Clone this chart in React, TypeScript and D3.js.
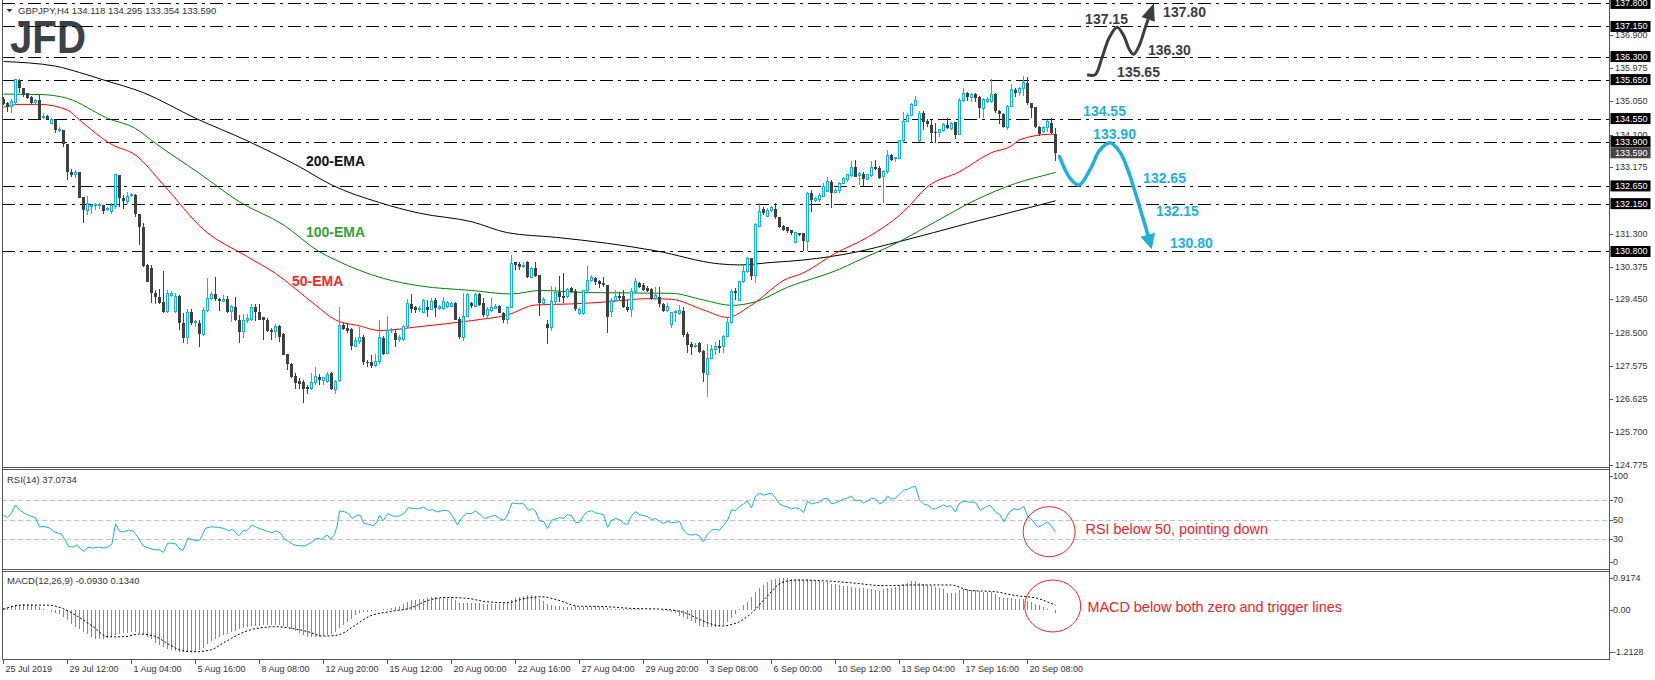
import React from "react";
import * as d3 from "d3";

// ---------- DATA ----------
// GBPJPY H4 candles: [open, high, low, close]
const ohlc: [number, number, number, number][] = [
  [135.09,135.15,134.93,134.96],[135.0,135.02,134.74,134.88],[134.88,135.09,134.7,135.02],[135.0,135.65,134.93,135.64],
  [135.65,135.66,135.26,135.4],[135.4,135.4,135.17,135.21],[135.26,135.28,135.09,135.14],[135.17,135.2,134.95,134.98],
  [135.0,135.09,134.93,135.07],[135.07,135.21,134.53,134.55],[134.6,134.7,134.55,134.62],[134.62,134.65,134.52,134.55],
  [134.41,134.58,134.39,134.52],[134.5,134.5,134.15,134.22],[134.2,134.3,134.18,134.24],[134.24,134.24,133.74,133.83],
  [133.83,133.83,132.83,133.05],[133.05,133.14,132.91,132.96],[132.96,133.1,132.86,133.04],[133.04,133.04,132.3,132.32],
  [132.34,132.35,131.59,131.97],[131.95,132.36,131.83,132.15],[132.08,132.15,131.87,132.1],[132.1,132.17,131.97,132.12],
  [132.1,132.18,132.0,132.12],[132.1,132.11,131.86,131.95],[131.98,132.05,131.93,132.0],[131.92,132.17,131.87,132.1],
  [132.06,132.97,132.0,132.96],[132.96,132.97,132.06,132.3],[132.32,132.39,132.0,132.23],[132.2,132.48,132.15,132.36],
  [132.4,132.46,132.33,132.42],[132.4,132.42,131.78,131.87],[131.87,131.87,130.98,131.5],[131.5,131.59,130.37,130.39],
  [130.41,130.44,129.94,129.94],[130.32,130.42,129.35,129.62],[129.62,129.71,129.33,129.52],[129.52,129.73,129.33,129.35],
  [129.38,130.25,129.07,129.1],[129.1,129.71,129.07,129.62],[129.57,129.69,129.52,129.62],[129.1,129.62,129.05,129.54],
  [129.54,129.57,128.58,128.77],[128.77,129.05,128.22,128.37],[128.37,129.17,128.19,129.08],[129.08,129.19,128.72,128.77],
  [128.8,128.86,128.68,128.82],[128.77,128.86,128.11,128.47],[128.47,129.22,128.41,129.14],[129.14,130.04,129.1,129.47],
  [129.47,129.66,129.43,129.59],[129.59,130.07,129.41,129.45],[129.45,129.5,129.13,129.4],[129.4,129.57,129.4,129.45],
  [129.45,129.54,129.07,129.1],[129.12,129.29,128.8,129.24],[129.24,129.52,128.84,128.86],[128.88,129.0,128.22,128.53],
  [128.53,129.03,128.35,128.86],[128.86,129.03,128.77,128.9],[128.88,129.31,128.84,129.22],[129.24,129.33,128.84,129.1],
  [129.1,129.31,128.86,128.88],[128.94,128.96,128.3,128.88],[128.88,128.91,128.53,128.56],[128.58,128.63,128.3,128.53],
  [128.53,128.75,128.37,128.69],[128.69,128.72,128.25,128.39],[128.46,128.49,127.87,127.87],[127.9,127.92,127.45,127.62],
  [127.62,127.64,127.22,127.26],[127.28,127.36,126.93,127.08],[127.14,127.22,126.93,127.06],[127.12,127.17,126.53,126.93],
  [126.98,127.03,126.79,126.93],[126.93,127.38,126.89,127.09],[127.09,127.55,127.03,127.26],[127.26,127.34,127.03,127.17],
  [127.17,127.26,127.03,127.24],[127.12,127.4,127.09,127.34],[127.36,127.4,126.89,126.93],[126.91,127.17,126.79,127.12],
  [127.15,129.22,127.12,128.72],[128.72,128.77,128.58,128.6],[128.63,128.77,128.49,128.56],[128.6,128.63,128.02,128.13],
  [128.13,128.39,128.11,128.3],[128.25,128.67,128.2,128.37],[128.39,128.44,127.59,127.69],[127.69,127.75,127.55,127.64],
  [127.69,127.87,127.5,127.57],[127.57,127.92,127.55,127.69],[127.69,128.86,127.62,128.37],[128.37,128.41,127.87,127.92],
  [127.92,128.98,127.9,128.58],[128.56,128.63,128.49,128.6],[128.51,128.58,128.11,128.3],[128.32,128.44,128.25,128.37],
  [128.32,128.72,128.28,128.67],[128.67,129.47,128.63,129.33],[129.33,129.61,129.05,129.19],[129.22,129.26,129.05,129.15],
  [129.15,129.26,129.1,129.2],
  [129.07,129.45,129.05,129.43],[129.22,129.43,128.96,129.15],[129.17,129.48,129.15,129.38],[129.43,129.48,128.96,129.2],
  [129.2,129.29,129.15,129.24],[129.2,129.52,129.15,129.38],[129.26,129.4,129.2,129.36],[129.24,129.38,129.22,129.33],
  [129.34,129.38,128.87,128.88],[128.9,128.94,128.32,128.38],[128.38,129.64,128.26,128.96],[128.96,129.62,128.94,129.59],
  [129.34,129.38,129.2,129.26],[129.26,129.62,129.22,129.59],[129.59,129.62,129.26,129.29],[129.34,129.48,128.96,129.0],
  [129.0,129.24,128.89,129.15],[129.13,129.48,129.1,129.22],[129.2,129.31,129.17,129.26],[129.26,129.29,129.05,129.07],
  [129.07,129.1,128.79,128.88],[128.88,129.26,128.75,129.22],[129.22,130.7,129.2,130.47],[130.49,130.51,130.28,130.42],
  [130.45,130.51,130.28,130.37],[130.37,130.51,130.32,130.41],[130.51,130.54,130.04,130.07],[130.07,130.37,130.04,130.32],
  [130.32,130.51,130.09,130.11],[130.14,130.14,128.98,129.36],[129.34,129.52,129.32,129.45],[128.75,128.86,128.19,128.65],
  [128.65,129.83,128.57,129.4],[129.38,129.79,129.29,129.64],[129.66,130.11,129.38,129.52],[129.55,130.18,129.34,129.5],
  [129.52,129.76,129.5,129.73],[129.76,129.79,129.64,129.66],[129.69,129.73,129.13,129.17],[129.06,129.24,129.01,129.17],
  [129.06,129.71,129.01,129.69],[129.69,130.39,129.66,129.99],[129.99,130.14,129.95,130.06],[130.06,130.09,129.85,129.95],
  [129.97,130.0,129.76,129.88],[129.92,130.07,129.79,129.85],[129.85,129.85,128.49,128.96],[129.1,129.48,128.96,129.43],
  [129.43,129.71,129.38,129.52],[129.55,129.67,129.43,129.5],[129.55,129.71,129.2,129.22],[129.24,129.43,129.1,129.15],
  [129.15,129.76,128.96,129.66],[129.66,130.04,129.62,129.95],[129.9,129.95,129.76,129.79],[129.85,129.92,129.69,129.71],
  [129.78,129.83,129.67,129.69],[129.73,129.76,129.43,129.45],[129.48,129.79,129.43,129.57],[129.52,129.79,129.24,129.31],
  [129.31,129.34,129.1,129.13],[129.13,129.34,129.1,129.26],[128.75,129.1,128.63,129.07],[129.07,129.15,128.82,129.1],
  [129.06,129.29,129.01,129.13],[129.13,129.24,128.4,128.44],[128.47,128.54,127.93,128.16],[128.19,128.25,127.88,128.11],
  [128.11,128.23,128.07,128.16],[128.23,128.25,127.93,127.97],[128.0,128.02,127.13,127.36],[127.34,128.2,126.69,127.78],
  [127.79,128.15,127.77,128.04],[128.04,128.25,127.88,128.13],[128.13,128.3,127.93,128.09],[128.13,128.44,127.93,128.4],
  [128.4,128.96,128.38,128.79],[128.79,129.73,128.75,129.66],[129.69,129.76,129.43,129.62],[129.43,129.98,129.41,129.95],
  [129.95,130.42,129.9,130.23],[130.23,130.65,130.18,130.61],[130.61,130.63,130.0,130.11],[130.11,131.6,129.92,131.55],
  [131.5,132.16,131.48,131.92],
  [131.99,132.06,131.83,131.88],[131.8,132.02,131.76,131.95],[131.95,132.08,131.92,132.05],[131.99,132.16,131.71,131.76],
  [131.76,131.78,131.45,131.5],[131.52,131.55,131.39,131.42],[131.48,131.5,131.31,131.39],[131.4,131.42,131.27,131.31],
  [131.05,131.36,131.03,131.33],[131.31,131.33,131.24,131.26],[131.31,131.33,130.8,131.1],
  [131.08,132.49,130.8,132.44],[132.46,132.53,131.9,132.25],[132.25,132.35,132.2,132.3],[132.27,132.44,132.2,132.39],
  [132.35,132.74,132.33,132.63],[132.49,132.89,132.47,132.77],[132.77,132.82,132.02,132.46],[132.46,132.58,132.44,132.53],
  [132.52,132.77,132.46,132.72],[132.72,132.91,132.7,132.86],[132.84,132.99,132.77,132.96],[132.93,133.36,132.89,133.17],
  [133.17,133.38,132.89,132.91],[132.93,133.05,132.68,133.0],[133.0,133.05,132.65,132.84],[132.84,133.0,132.82,132.96],
  [132.93,133.36,132.89,133.17],[133.19,133.38,133.1,133.12],[133.15,133.21,132.84,132.86],[132.91,133.1,132.16,133.05],
  [133.05,133.66,133.0,133.52],[133.52,133.54,133.36,133.38],[133.41,133.47,133.33,133.45],[133.42,133.95,133.4,133.92],
  [133.92,134.74,133.85,134.48],[134.48,134.72,134.44,134.65],[134.65,135.0,134.62,134.95],[134.93,135.19,134.9,135.07],
  [133.93,134.75,133.9,134.7],[134.72,134.77,134.23,134.46],[134.48,134.53,134.32,134.39],[134.37,134.51,133.87,134.15],
  [134.18,134.42,133.87,134.13],[134.15,134.27,134.02,134.23],[134.2,134.42,134.18,134.37],[134.37,134.56,134.25,134.28],
  [134.28,134.44,134.23,134.42],[134.44,134.46,133.98,134.09],[134.09,135.12,134.08,135.07],[135.07,135.4,135.03,135.26],
  [135.28,135.31,135.05,135.17],[135.15,135.28,135.03,135.24],[135.24,135.26,135.03,135.14],[135.17,135.19,134.56,134.84],
  [134.84,135.12,134.56,135.09],[135.03,135.15,135.0,135.09],[135.03,135.66,135.0,135.24],[135.24,135.26,134.72,134.75],
  [134.77,134.79,134.4,134.68],[134.68,134.72,134.28,134.3],[134.3,134.93,134.23,134.9],[134.9,135.53,134.89,135.36],
  [135.36,135.4,135.17,135.26],[135.28,135.45,135.19,135.4],[135.4,135.75,135.19,135.56],[135.56,135.71,134.93,134.98],
  [134.98,135.0,134.56,134.84],[134.87,134.89,134.28,134.3],[134.32,134.34,134.06,134.11],[134.18,134.34,134.13,134.3],
  [134.3,134.51,134.18,134.46],[134.43,134.56,134.11,134.13],[134.118,134.295,133.354,133.59],
];

// EMA readings [bar, value]
const ema200: [number, number][] = [
  [0,136.16],[13,136.03],[19,135.85],[25,135.64],[35,135.28],[48,134.56],[61,133.92],[74,133.19],[82,132.68],
  [94,132.18],[104,131.88],[117,131.64],[126,131.33],[138,131.2],[151,131.03],[163,130.82],[179,130.45],[184,130.42],
  [192,130.49],[200,130.56],[213,130.78],[224,131.08],[241,131.59],[262,132.2],[263,132.23],
];
const ema100: [number, number][] = [
  [0,135.24],[9,135.23],[16,135.12],[26,134.56],[33,134.27],[38,133.85],[49,133.0],[59,132.2],[70,131.55],[79,130.79],
  [83,130.56],[95,130.04],[104,129.83],[117,129.7],[127,129.6],[134,129.7],[146,129.64],[167,129.62],[175,129.43],
  [182,129.28],[188,129.38],[196,129.79],[209,130.3],[213,130.51],[224,131.08],[233,131.64],[243,132.25],[253,132.72],
  [262,133.0],[263,133.03],
];
const ema50: [number, number][] = [
  [0,134.87],[4,134.95],[9,134.95],[16,134.79],[19,134.51],[27,133.82],[33,133.52],[40,132.68],[50,131.42],[61,130.65],
  [68,130.18],[78,129.29],[83,128.87],[89,128.7],[94,128.57],[104,128.68],[117,128.85],[126,129.01],[133,129.29],
  [142,129.32],[151,129.38],[161,129.47],[167,129.45],[175,129.15],[181,128.94],[187,129.29],[196,130.04],[199,130.15],
  [208,130.75],[216,131.2],[225,131.92],[231,132.63],[239,133.05],[247,133.59],[252,133.78],[254,133.95],[262,134.11],
  [263,134.09],
];

// RSI(14) readings [bar, value]
const rsi: [number, number][] = [
  [0,54.4],[1,52],[1.9,56],[3,65],[4.1,59.4],[5.4,56],[6.8,53.4],[8,51.7],[9,42.6],[10.4,42.6],[11.7,41],[12.6,37.5],
  [14.4,35.2],[15.3,29.8],[16.2,22.4],[17.5,21.7],[18.4,24],[19.3,19.7],[20.2,17.3],[21.1,21.7],[22.4,20.7],[23.8,21.7],
  [25.1,20.7],[26,21.7],[27.1,24.7],[28,45.3],[29.1,37.5],[30.3,37.5],[31.3,39.2],[32.4,38.2],[33.6,31.8],[34.9,23],
  [36.3,20.7],[37.6,19],[38.9,19],[40,16.3],[41,25.7],[42.1,25.7],[43.1,25],[43.8,20.7],[44.9,18.3],[46.1,30.8],
  [47.4,29.1],[48.8,28.1],[49.2,29.8],[50.5,40.9],[51.9,42.6],[53.7,41.9],[55,40.9],[56.3,38.5],[57.2,39.9],[58.8,33.2],
  [59.9,38.5],[60.8,38.5],[62.1,44.3],[63.3,41.9],[64.4,40.2],[65.7,38.2],[67.1,36.5],[68.1,38.5],[69.3,35.8],[70.2,29.8],
  [71.3,27.4],[72.6,24],[73.8,23],[75.5,23],[76.9,26.4],[78.2,30.8],[79.6,29.8],[80.9,34.2],[81.8,29.8],[82.7,34.2],
  [83.4,43.3],[84,58.8],[85.4,57.8],[86.3,56],[87.2,51],[88.3,54.4],[89.2,54.4],[90.1,46],[91.2,45.3],[92.5,43.6],
  [93.4,47.6],[94,54.4],[94.9,48.7],[96.1,56],[97.4,53.4],[98.8,53.4],[100.1,56],[101.2,62.1],[102.8,61.1],[103.9,61.1],
  [105,62.8],[106.2,59.4],[107.2,60.1],[108.6,57.8],[109.9,59.4],[111.3,58.8],[112.4,52.7],[113.5,44.3],[114.4,51],
  [115.7,56],[116.9,56],[118,58.8],[119.3,54.4],[120.2,51],[121.5,52.7],[122.9,54.4],[124,51],[125.1,49.3],[126,54.4],
  [127.1,66.9],[128.7,66.2],[130,66.2],[131.2,59.4],[132.2,61.1],[133.1,57.8],[134,48.7],[135.1,47.6],[136,40.9],
  [137.1,49.3],[138.5,51],[139,52],[140,51],[141,55],[142,54],[143,47],[144,47],[145,54],[146,58],[147,59],[148,57],
  [149,56],[150,55],[151,42],[152,49],[153,51],[154,50],[155,46],[156,45],[157,54],[158,58],[159,55],[160,54],[161,53],
  [162,50],[163,51],[164,48],[165,46],[166,48],[167,47],[168,47],[169,48],[170,39],[171,35],[172,34],[173,35],[174,33],
  [175,27],[176,35],[177,39],[178,40],[179,39],[180,44],[181,49],[182,60],[183,59],[184,63],[185,66],[186,69],[187,62],
  [188,74],[189,77],[190,75],[191,76],[192,77],[193,72],[194,66],[195,64],[196,63],[197,61],[198,62],[199,61],[200,57],
  [201,69],[202,66],[203,67],[204,68],[205,71],[206,72],[207,66],[208,67],[209,69],[210,71],[211,72],[212,74],[213,69],
  [214,70],[215,67],[216,69],[217,72],[218,71],[219,66],[220,68],[221,74],[222,71],[223,72],[224,76],[225,80],[226,81],
  [227,83],[228,84],[229,70],[230,66],[231,65],[232,61],[233,61],[234,63],[235,65],[236,63],[236.7,64.4],[238,57.7],
  [238.8,66],[240,68.7],[241.7,67.7],[243,67.7],[244.2,59.3],[245.5,62.7],[246.7,64.4],[248,57.7],[249.2,54.4],
  [250.1,47.6],[251.3,56.7],[252.6,61],[253.8,60],[255.1,63.4],[256.1,52.7],[257.2,49.3],[258.6,42],[259.7,44.3],
  [261,47.6],[261.8,44.3],[263,37.07],
];

// MACD(12,26,9) main histogram, one value per bar
const macdHist: number[] = [
  0.05,0.08,0.11,0.14,0.15,0.16,0.16,0.16,0.12,0.08,
  0.04,0.0,-0.05,-0.08,-0.12,-0.2,-0.3,-0.4,-0.48,-0.56,
  -0.63,-0.7,-0.78,-0.82,-0.84,-0.84,-0.81,-0.78,-0.72,-0.69,
  -0.67,-0.66,-0.64,-0.62,-0.65,-0.7,-0.77,-0.84,-0.94,-1.02,
  -1.06,-1.11,-1.15,-1.18,-1.2,-1.21,-1.2128,-1.21,-1.19,-1.15,
  -1.1,-0.98,-0.9,-0.82,-0.77,-0.72,-0.68,-0.63,-0.6,-0.56,
  -0.52,-0.49,-0.47,-0.46,-0.45,-0.43,-0.43,-0.43,-0.42,-0.43,
  -0.45,-0.5,-0.55,-0.6,-0.67,-0.73,-0.77,-0.78,-0.79,-0.78,
  -0.74,-0.72,-0.68,-0.62,-0.52,-0.44,-0.34,-0.25,-0.15,-0.1,
  -0.07,-0.05,-0.03,-0.02,0.0,0.02,0.04,0.06,0.08,0.12,
  0.18,0.24,0.28,0.3,0.31,0.33,0.35,0.36,0.36,0.35,
  0.36,0.35,0.36,0.3,0.19,0.2,0.19,0.2,0.19,0.19,
  0.18,0.18,0.17,0.16,0.17,0.2,0.24,0.3,0.34,0.37,
  0.4,0.42,0.43,0.41,0.31,0.25,0.18,0.14,0.12,0.11,
  0.1,0.1,0.1,0.11,0.1,0.09,0.1,0.1,0.11,0.1,
  0.1,0.06,0.04,0.03,0.02,0.03,0.02,0.02,0.03,0.02,
  0.01,0.01,0.0,0.0,0.0,-0.02,-0.04,-0.05,-0.1,-0.17,
  -0.2,-0.26,-0.32,-0.36,-0.45,-0.48,-0.49,-0.5,-0.5,-0.47,
  -0.42,-0.35,-0.22,-0.12,0.02,0.15,0.24,0.38,0.53,0.62,
  0.72,0.8,0.86,0.9,0.9174,0.91,0.91,0.9,0.89,0.88,
  0.86,0.88,0.86,0.84,0.82,0.8,0.8,0.76,0.74,0.72,
  0.7,0.68,0.66,0.64,0.63,0.62,0.6,0.6,0.58,0.56,
  0.6,0.62,0.63,0.66,0.72,0.76,0.79,0.82,0.84,0.78,
  0.75,0.72,0.68,0.66,0.64,0.6,0.5,0.48,0.5,0.58,
  0.6,0.6,0.58,0.58,0.55,0.53,0.53,0.52,0.45,0.38,
  0.34,0.34,0.35,0.33,0.32,0.32,0.27,0.24,0.18,0.13,
  0.08,0.03,0.0,-0.093,
];
// MACD signal line readings [bar, value]
const macdSignal: [number, number][] = [
  [0,0.02],[4.5,0.14],[10.9,0.14],[14.7,0.05],[18.6,-0.19],[22.4,-0.48],[26.2,-0.77],[30,-0.77],[33.9,-0.69],
  [37.7,-0.75],[41.5,-1.0],[44.7,-1.17],[47.9,-1.2],[51.7,-1.15],[55.5,-0.91],[59.4,-0.67],[63.2,-0.53],[68.3,-0.48],
  [72.1,-0.53],[76,-0.62],[79.8,-0.75],[83.6,-0.72],[87.4,-0.48],[91.3,-0.19],[96.4,-0.05],[101.5,0.05],[106.6,0.29],
  [110.4,0.36],[115.5,0.34],[120.6,0.24],[125.7,0.21],[130.8,0.34],[134.6,0.38],[138.5,0.29],[143.6,0.11],[150,0.1],
  [156.3,0.05],[165.2,0.02],[170.3,-0.08],[175.4,-0.34],[179.3,-0.46],[183.1,-0.38],[186.9,-0.1],[190.8,0.38],
  [194.6,0.79],[198.4,0.86],[205,0.84],[212,0.78],[220,0.7],[228,0.72],[236.7,0.72],[241.7,0.56],[247.5,0.53],
  [253.3,0.41],[258.3,0.34],[263,0.134],
];

const levelPrices = [137.8, 137.15, 136.3, 135.65, 134.55, 133.9, 132.65, 132.15, 130.8];
const priceTicks = [136.9, 135.975, 135.05, 134.1, 133.175, 131.3, 130.375, 129.45, 128.5, 127.575, 126.625, 125.7, 124.775];
const lastPrice = 133.59;
const rsiTicks = [100, 70, 50, 30, 0];
const rsiLevels = [70, 50, 30];
const macdTicks = [0.9174, 0, -1.2128];
const timeLabels = [
  "25 Jul 2019", "29 Jul 12:00", "1 Aug 04:00", "5 Aug 16:00", "8 Aug 08:00", "12 Aug 20:00", "15 Aug 12:00",
  "20 Aug 00:00", "22 Aug 16:00", "27 Aug 04:00", "29 Aug 20:00", "3 Sep 08:00", "6 Sep 00:00", "10 Sep 12:00",
  "13 Sep 04:00", "17 Sep 16:00", "20 Sep 08:00",
];
const barsPerTimeLabel = 16;

// scenario paths in [bar, price]
const bullPath: [number, number][] = [
  [270.9,135.788],[272.9,135.788],[274.6,136.259],[276.4,136.824],[278.4,137.126],[280.1,136.88],[281.4,136.513],
  [282.5,136.364],[283.9,136.598],[285.4,137.106],
];
const bullTip: [number, number] = [287.6, 137.803];
const bearPath: [number, number][] = [
  [264.0,133.474],[266.6,132.873],[268.9,132.676],[271.6,133.1],[274.1,133.664],[276.6,133.87],[279.1,133.607],
  [281.1,133.1],[282.9,132.479],[284.4,131.915],[285.6,131.463],
];
const bearTip: [number, number] = [287.05, 130.862];
const bullLabels: { t: string; b: number; p: number }[] = [
  { t: "137.15", b: 270.4, p: 137.36 },
  { t: "137.80", b: 289.9, p: 137.55 },
  { t: "136.30", b: 286.1, p: 136.485 },
  { t: "135.65", b: 278.4, p: 135.873 },
];
const bearLabels: { t: string; b: number; p: number }[] = [
  { t: "134.55", b: 269.9, p: 134.772 },
  { t: "133.90", b: 272.4, p: 134.115 },
  { t: "132.65", b: 284.9, p: 132.865 },
  { t: "132.15", b: 288.1, p: 131.951 },
  { t: "130.80", b: 291.6, p: 131.048 },
];
const emaLabels: { t: string; b: number; p: number; c: string }[] = [
  { t: "200-EMA", b: 75.6, p: 133.362, c: "#111111" },
  { t: "100-EMA", b: 75.6, p: 131.35, c: "#35a03a" },
  { t: "50-EMA", b: 72.1, p: 129.976, c: "#ee2b2b" },
];

// ---------- STYLE ----------
const FONT = "'Liberation Sans', Arial, sans-serif";
const AXIS_COLOR = "#333333";
const FRAME = "#555555";
const BULL = "#15b1da";
const BEAR = "#404040";
const CYAN = "#1cb0db";
const RED = "#e8252c";

export default function App() {
  const n = ohlc.length;
  const left = 2;
  const right = 1609;
  const x = d3.scaleLinear().domain([0, 1]).range([3.5, 7.5]);
  const yP = d3.scaleLinear().domain([124.775, 136.9]).range([465, 35.3]);
  const yR = d3.scaleLinear().domain([0, 100]).range([568.25, 470.75]);
  const yM = d3.scaleLinear().domain([0, 1]).range([610, 575.2]);

  const emaLine = d3
    .line<[number, number]>()
    .x((d) => x(d[0]))
    .y((d) => yP(d[1]))
    .curve(d3.curveMonotoneX);
  const rsiLine = d3
    .line<[number, number]>()
    .x((d) => x(d[0]))
    .y((d) => yR(d[1]));
  const sigLine = d3
    .line<[number, number]>()
    .x((d) => x(d[0]))
    .y((d) => yM(d[1]))
    .curve(d3.curveMonotoneX);
  const arrowLine = d3
    .line<[number, number]>()
    .x((d) => d[0])
    .y((d) => d[1])
    .curve(d3.curveCatmullRom.alpha(0.5));

  const arrow = (pts: [number, number][], tip: [number, number], headLen: number, halfW: number) => {
    const px = pts.map((d) => [x(d[0]), yP(d[1])] as [number, number]);
    const t: [number, number] = [x(tip[0]), yP(tip[1])];
    const last = px[px.length - 1];
    const dx = t[0] - last[0];
    const dy = t[1] - last[1];
    const len = Math.hypot(dx, dy);
    const ux = dx / len;
    const uy = dy / len;
    const base: [number, number] = [t[0] - ux * headLen, t[1] - uy * headLen];
    const w1 = [base[0] - uy * halfW, base[1] + ux * halfW];
    const w2 = [base[0] + uy * halfW, base[1] - ux * halfW];
    return {
      line: arrowLine([...px, base]) || "",
      head: `M${t[0]},${t[1]}L${w1[0]},${w1[1]}L${w2[0]},${w2[1]}Z`,
    };
  };
  const bull = arrow(bullPath, bullTip, 17, 7);
  const bear = arrow(bearPath, bearTip, 15, 7.5);

  const crisp = (v: number) => Math.round(v) + 0.5;

  return (
    <svg
      width={1655}
      height={680}
      viewBox="0 0 1655 680"
      style={{ position: "absolute", left: 0, top: 0, background: "#ffffff" }}
      fontFamily={FONT}
    >
      <rect x={0} y={0} width={1655} height={680} fill="#ffffff" />

      {/* logo */}
      <text
        x={10}
        y={53}
        fontSize={47}
        fontWeight="bold"
        fill="#3c4047"
        textLength={76}
        lengthAdjust="spacingAndGlyphs"
      >
        JFD
      </text>

      {/* header */}
      <path d="M6.5,9 L12.5,9 L9.5,12.3 Z" fill="#333" />
      <text x={18} y={10} fontSize={9.5} fill={AXIS_COLOR} dominantBaseline="central">
        GBPJPY,H4  134.118 134.295 133.354 133.590
      </text>

      {/* level lines */}
      {levelPrices.map((p) => (
        <line
          key={"lv" + p}
          x1={left}
          x2={right}
          y1={crisp(yP(p))}
          y2={crisp(yP(p))}
          stroke="#000"
          strokeWidth={1}
          strokeDasharray="13,5,3,5"
        />
      ))}

      {/* EMAs */}
      <path d={emaLine(ema200) || ""} fill="none" stroke="#000000" strokeWidth={1} />
      <path d={emaLine(ema100) || ""} fill="none" stroke="#008000" strokeWidth={1} />
      <path d={emaLine(ema50) || ""} fill="none" stroke="#ff0000" strokeWidth={1} />

      {/* candles */}
      <g shapeRendering="crispEdges">
        {ohlc.map(([o, h, l, c], i) => {
          const cx = x(i);
          const bullish = c >= o;
          const top = yP(Math.max(o, c));
          const bot = yP(Math.min(o, c));
          const col = bullish ? BULL : BEAR;
          return (
            <g key={"c" + i}>
              <line x1={cx} x2={cx} y1={yP(Math.max(h, o, c))} y2={yP(Math.min(l, o, c))} stroke={col} />
              {bullish ? (
                <rect x={cx - 1} y={top} width={2} height={Math.max(1, bot - top)} fill="#ffffff" stroke={col} />
              ) : (
                <rect x={cx - 1.5} y={top} width={3} height={Math.max(1, bot - top)} fill={col} />
              )}
            </g>
          );
        })}
      </g>

      {/* EMA labels */}
      {emaLabels.map((d) => (
        <text
          key={d.t}
          x={x(d.b)}
          y={yP(d.p)}
          fontSize={14}
          fontWeight="bold"
          fill={d.c}
          dominantBaseline="central"
        >
          {d.t}
        </text>
      ))}

      {/* scenario arrows */}
      <path d={bull.line} fill="none" stroke="#3d3d3d" strokeWidth={3} strokeLinejoin="round" />
      <path d={bull.head} fill="#3d3d3d" />
      <path d={bear.line} fill="none" stroke={CYAN} strokeWidth={3.5} strokeLinecap="round" strokeLinejoin="round" />
      <path d={bear.head} fill={CYAN} />
      {bullLabels.map((d) => (
        <text key={d.t} x={x(d.b)} y={yP(d.p)} fontSize={14} fontWeight="bold" fill="#3d3d3d" dominantBaseline="central">
          {d.t}
        </text>
      ))}
      {bearLabels.map((d) => (
        <text key={d.t} x={x(d.b)} y={yP(d.p)} fontSize={14} fontWeight="bold" fill={CYAN} dominantBaseline="central">
          {d.t}
        </text>
      ))}

      {/* RSI panel */}
      {rsiLevels.map((v) => (
        <line
          key={"rl" + v}
          x1={left}
          x2={right}
          y1={crisp(yR(v))}
          y2={crisp(yR(v))}
          stroke="#c4c4c4"
          strokeDasharray="5,3"
        />
      ))}
      <path d={rsiLine(rsi) || ""} fill="none" stroke="#1aaed8" strokeWidth={1} />
      <text x={7} y={479} fontSize={9.5} fill={AXIS_COLOR} dominantBaseline="central">
        RSI(14) 37.0734
      </text>
      <ellipse cx={x(261.4)} cy={yR(37.5)} rx={26} ry={25} fill="none" stroke={RED} strokeWidth={1} />
      <text x={x(270.5)} y={yR(39.9)} fontSize={14.4} fill={RED} dominantBaseline="central">
        RSI below 50, pointing down
      </text>

      {/* MACD panel */}
      <g shapeRendering="crispEdges">
        {macdHist.map((v, i) => (
          <line key={"m" + i} x1={x(i)} x2={x(i)} y1={yM(0)} y2={yM(v)} stroke={BULL} />
        ))}
      </g>
      <path d={sigLine(macdSignal) || ""} fill="none" stroke="#000" strokeWidth={1} strokeDasharray="2,2" />
      <text x={7} y={580} fontSize={9.5} fill={AXIS_COLOR} dominantBaseline="central">
        MACD(12,26,9) -0.0930 0.1340
      </text>
      <ellipse cx={x(262.3)} cy={yM(0.115)} rx={28} ry={26} fill="none" stroke={RED} strokeWidth={1} />
      <text x={x(271)} y={yM(0.095)} fontSize={14.4} fill={RED} dominantBaseline="central">
        MACD below both zero and trigger lines
      </text>

      {/* frames */}
      <g stroke={FRAME} strokeWidth={1} shapeRendering="crispEdges" fill="none">
        <line x1={2.5} x2={2.5} y1={0} y2={660} />
        <line x1={1609.5} x2={1609.5} y1={0} y2={660} />
        <line x1={2} x2={1610} y1={467.5} y2={467.5} />
        <line x1={2} x2={1610} y1={469.5} y2={469.5} />
        <line x1={2} x2={1610} y1={569.5} y2={569.5} />
        <line x1={2} x2={1610} y1={571.5} y2={571.5} />
        <line x1={2} x2={1610} y1={659.5} y2={659.5} />
      </g>

      {/* price axis */}
      {priceTicks.map((p) => (
        <g key={"pt" + p}>
          <line x1={1610} x2={1613} y1={crisp(yP(p))} y2={crisp(yP(p))} stroke={FRAME} />
          <text x={1615} y={yP(p)} fontSize={9} fill={AXIS_COLOR} dominantBaseline="central">
            {p.toFixed(3)}
          </text>
        </g>
      ))}
      {levelPrices.map((p) => (
        <g key={"pb" + p}>
          <rect x={1610.5} y={yP(p) - 5.5} width={40} height={11} fill="#000" />
          <text x={1615} y={yP(p)} fontSize={9} fill="#fff" dominantBaseline="central">
            {p.toFixed(3)}
          </text>
        </g>
      ))}
      <rect x={1610.5} y={yP(lastPrice) - 5.5} width={40} height={11} fill="#444" stroke="#888" strokeWidth={0.5} />
      <text x={1615} y={yP(lastPrice)} fontSize={9} fill="#fff" dominantBaseline="central">
        {lastPrice.toFixed(3)}
      </text>

      {/* RSI axis */}
      {rsiTicks.map((v) => {
        const yy = v === 100 ? yR(v) + 5 : v === 0 ? yR(v) - 6 : yR(v);
        return (
          <g key={"rt" + v}>
            <line x1={1610} x2={1613} y1={crisp(yy)} y2={crisp(yy)} stroke={FRAME} />
            <text x={1613} y={yy} fontSize={9} fill={AXIS_COLOR} dominantBaseline="central">
              {v}
            </text>
          </g>
        );
      })}

      {/* MACD axis */}
      {macdTicks.map((v) => (
        <g key={"mt" + v}>
          <line x1={1610} x2={1613} y1={crisp(yM(v))} y2={crisp(yM(v))} stroke={FRAME} />
          <text x={1613} y={yM(v)} fontSize={9} fill={AXIS_COLOR} dominantBaseline="central">
            {v === 0 ? "0.00" : String(v)}
          </text>
        </g>
      ))}

      {/* time axis */}
      {timeLabels.map((t, k) => {
        const xx = Math.floor(x(k * barsPerTimeLabel)) + 0.5;
        return (
          <g key={"tl" + k}>
            <line x1={xx} x2={xx} y1={660} y2={664} stroke={FRAME} />
            <text x={xx + 2} y={669} fontSize={9} fill={AXIS_COLOR} dominantBaseline="central">
              {t}
            </text>
          </g>
        );
      })}
      <g style={{ display: n ? "inline" : "none" }} />
    </svg>
  );
}
